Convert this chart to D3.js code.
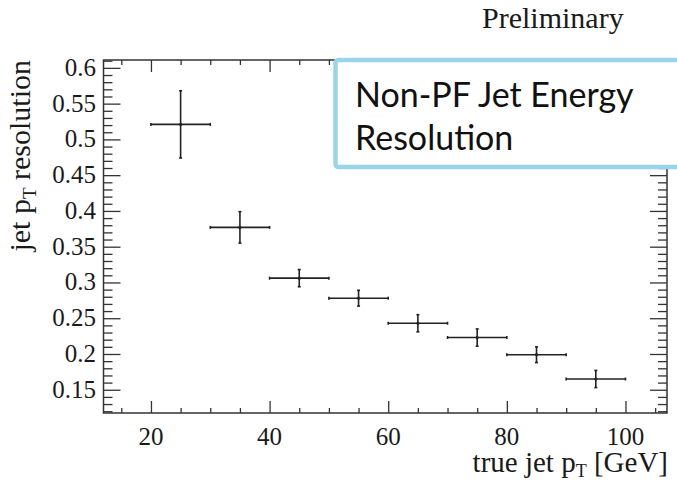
<!DOCTYPE html>
<html>
<meta charset="UTF-8" />
<script src="https://cdn.jsdelivr.net/npm/d3@7"></script>
<style>
*{margin:0; padding:0;}
body{background:#fff;}
.serif{font-family:"Liberation Serif","Times New Roman",serif; fill:#1a1a1a;}
</style>
<body>
<div id="chart"></div>
<script>
// bins of true jet pT (centre, half width) and measured resolution
var binCentre = [25, 35, 45, 55, 65, 75, 85, 95];
var binHalf   = [5, 5, 5, 5, 5, 5, 5, 5];
var resol     = [0.521, 0.377, 0.306, 0.278, 0.243, 0.223, 0.199, 0.165];
var resolErr  = [0.047, 0.022, 0.012, 0.011, 0.012, 0.012, 0.011, 0.012];

var xTicks = [20, 40, 60, 80, 100];
var yTicks = [0.15, 0.2, 0.25, 0.3, 0.35, 0.4, 0.45, 0.5, 0.55, 0.6];

var width = 677, height = 481;
var fLeft = 103.5, fRight = 667, fTop = 60, fBottom = 413;

var svg = d3.select("#chart").append("svg")
	.attr("width", width).attr("height", height);

var x = d3.scaleLinear().domain([12, 107]).range([fLeft, fRight]);
var y = d3.scaleLinear().domain([0.1175, 0.611]).range([fBottom, fTop]);

var minorX = d3.range(15, 107, 5).filter(function(v){ return v % 20 != 0; });
var minorY = d3.range(12, 62).map(function(v){ return v / 100; }).filter(function(v){ return Math.round(v*100) % 5 != 0; });

function tickStyle(g){
	g.select(".domain").remove();
	g.selectAll("line").attr("stroke", "#333").attr("stroke-width", 1.3);
	g.selectAll("text").remove();
}

// bottom & top ticks (pointing inwards)
[[fBottom, d3.axisTop], [fTop, d3.axisBottom]].forEach(function(p){
	svg.append("g").attr("transform", "translate(0," + p[0] + ")")
		.call(p[1](x).tickValues(xTicks).tickSize(12)).call(tickStyle);
	svg.append("g").attr("transform", "translate(0," + p[0] + ")")
		.call(p[1](x).tickValues(minorX).tickSize(5)).call(tickStyle);
});
// left & right ticks
[[fLeft, d3.axisRight], [fRight, d3.axisLeft]].forEach(function(p){
	svg.append("g").attr("transform", "translate(" + p[0] + ",0)")
		.call(p[1](y).tickValues(yTicks).tickSize(17)).call(tickStyle);
	svg.append("g").attr("transform", "translate(" + p[0] + ",0)")
		.call(p[1](y).tickValues(minorY).tickSize(9)).call(tickStyle);
});

// frame
svg.append("rect")
	.attr("x", fLeft).attr("y", fTop)
	.attr("width", fRight - fLeft).attr("height", fBottom - fTop)
	.attr("fill", "none").attr("stroke", "#333").attr("stroke-width", 1.5);

// tick labels
svg.selectAll(".xl").data(xTicks).enter().append("text")
	.attr("class", "serif")
	.attr("x", function(d){ return x(d); })
	.attr("y", 445)
	.attr("text-anchor", "middle")
	.style("font-size", "25px")
	.text(function(d){ return d; });

svg.selectAll(".yl").data(yTicks).enter().append("text")
	.attr("class", "serif")
	.attr("x", 96)
	.attr("y", function(d){ return y(d) + 8; })
	.attr("text-anchor", "end")
	.style("font-size", "25px")
	.text(function(d){ return d; });

// axis titles
var xt = svg.append("text").attr("class", "serif")
	.attr("x", 668).attr("y", 472)
	.attr("text-anchor", "end")
	.style("font-size", "29px");
xt.append("tspan").text("true jet p");
xt.append("tspan").attr("dy", 5).style("font-size", "18px").text("T");
xt.append("tspan").attr("dy", -5).text(" [GeV]");

var yt = svg.append("text").attr("class", "serif")
	.attr("transform", "translate(30,60) rotate(-90)")
	.attr("text-anchor", "end")
	.style("font-size", "30px");
yt.append("tspan").text("jet p");
yt.append("tspan").attr("dy", 6).style("font-size", "19px").text("T");
yt.append("tspan").attr("dy", -6).text(" resolution");

// data points with error bars
var pts = svg.append("g").attr("stroke", "#222").attr("stroke-width", 1.6);
binCentre.forEach(function(c, i){
	var cy = y(resol[i]);
	pts.append("line")
		.attr("x1", x(c - binHalf[i])).attr("x2", x(c + binHalf[i]))
		.attr("y1", cy).attr("y2", cy);
	pts.append("line")
		.attr("x1", x(c)).attr("x2", x(c))
		.attr("y1", y(resol[i] + resolErr[i])).attr("y2", y(resol[i] - resolErr[i]));
	[[x(c - binHalf[i]), cy, 0], [x(c + binHalf[i]), cy, 0],
	 [x(c), y(resol[i] + resolErr[i]), 1], [x(c), y(resol[i] - resolErr[i]), 1]].forEach(function(e){
		if (e[2]) pts.append("line").attr("x1", e[0]-1.5).attr("x2", e[0]+1.5).attr("y1", e[1]).attr("y2", e[1]);
		else pts.append("line").attr("x1", e[0]).attr("x2", e[0]).attr("y1", e[1]-1.5).attr("y2", e[1]+1.5);
	});
	pts.append("circle").attr("cx", x(c)).attr("cy", cy).attr("r", 1.6).attr("fill", "#222").attr("stroke", "none");
});

// header
svg.append("text").attr("class", "serif")
	.attr("x", 482).attr("y", 28)
	.style("font-size", "30px")
	.text("Preliminary");

// highlighted title box
svg.append("rect")
	.attr("x", 335.5).attr("y", 60)
	.attr("width", 360).attr("height", 107)
	.attr("rx", 3)
	.attr("fill", "#fff")
	.attr("stroke", "#9ad4e8").attr("stroke-width", 4.5);

svg.selectAll(".bt").data(["Non-PF Jet Energy", "Resolution"]).enter().append("text")
	.attr("x", 355)
	.attr("y", function(d, i){ return 107 + i * 43; })
	.style("font-family", "Lato, 'Open Sans', sans-serif")
	.style("font-size", "34px")
	.style("fill", "#111")
	.text(function(d){ return d; });
</script>
</body>
</html>
